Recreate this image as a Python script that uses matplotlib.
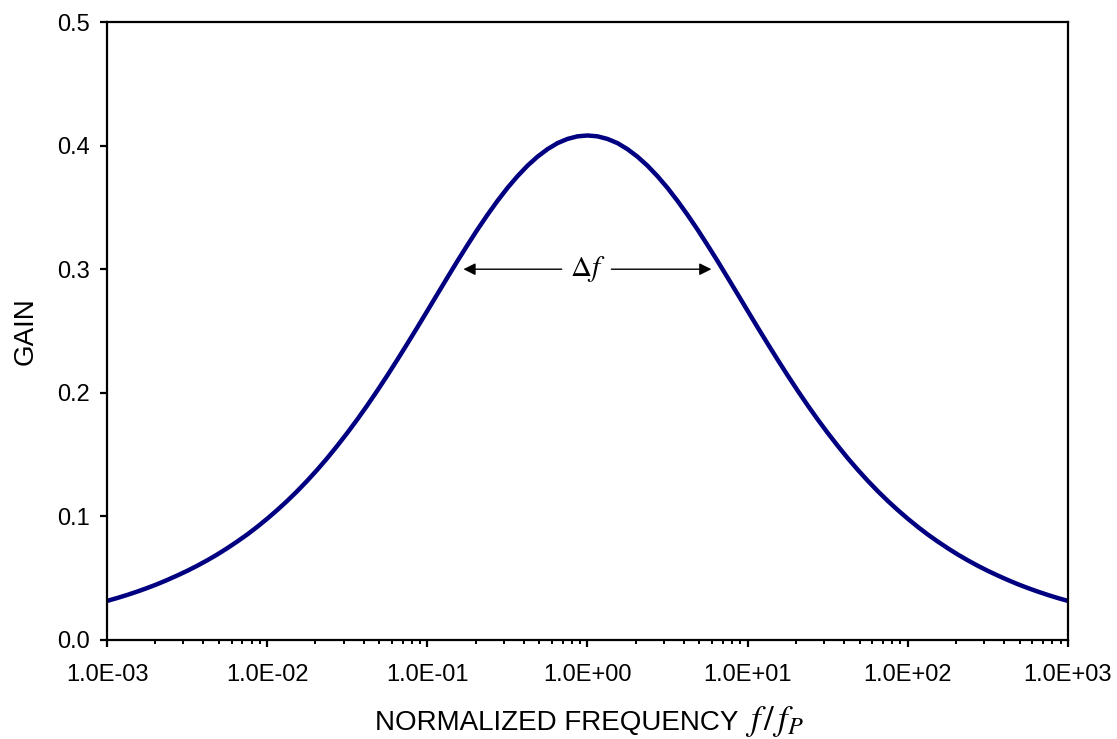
import matplotlib
matplotlib.use("Agg")
import matplotlib.pyplot as plt
from matplotlib.ticker import FuncFormatter, LogLocator, MultipleLocator, NullFormatter

# gain, sixteenth-decade steps from f/fP = 1e-3 to 1e3
gain = [0.0316, 0.0339, 0.0364, 0.0391, 0.0420, 0.0451, 0.0485, 0.0521,
        0.0559, 0.0600, 0.0644, 0.0691, 0.0742, 0.0796, 0.0853, 0.0915,
        0.0981, 0.1051, 0.1125, 0.1204, 0.1288, 0.1377, 0.1471, 0.1571,
        0.1675, 0.1784, 0.1898, 0.2017, 0.2140, 0.2267, 0.2397, 0.2529,
        0.2663, 0.2798, 0.2932, 0.3065, 0.3194, 0.3320, 0.3439, 0.3552,
        0.3657, 0.3752, 0.3837, 0.3910, 0.3971, 0.4020, 0.4054, 0.4075,
        0.4082,
        0.4075, 0.4054, 0.4020, 0.3971, 0.3910, 0.3837, 0.3752, 0.3657,
        0.3552, 0.3439, 0.3320, 0.3194, 0.3065, 0.2932, 0.2798, 0.2663,
        0.2529, 0.2397, 0.2267, 0.2140, 0.2017, 0.1898, 0.1784, 0.1675,
        0.1571, 0.1471, 0.1377, 0.1288, 0.1204, 0.1125, 0.1051, 0.0981,
        0.0915, 0.0853, 0.0796, 0.0742, 0.0691, 0.0644, 0.0600, 0.0559,
        0.0521, 0.0485, 0.0451, 0.0420, 0.0391, 0.0364, 0.0339, 0.0316]
log_freq = [-3 + i / 16 for i in range(len(gain))]
freq = [10 ** u for u in log_freq]

decade_ticks = [1e-3, 1e-2, 1e-1, 1e0, 1e1, 1e2, 1e3]
gain_ticks = [0.0, 0.1, 0.2, 0.3, 0.4, 0.5]

# bandwidth arrows at gain 0.3
band_level = 0.3
band_left = 0.168
band_right = 5.94
label_left = 0.69
label_right = 1.41

plt.rcParams["font.family"] = ["Liberation Sans", "DejaVu Sans"]
plt.rcParams["mathtext.fontset"] = "stix"

fig = plt.figure(figsize=(11.17, 7.39), dpi=100)
ax = fig.add_axes([0.0958, 0.134, 0.8603, 0.8362])

ax.plot(freq, gain, color="#000080", lw=3.2, solid_capstyle="butt")

ax.set_xscale("log")
ax.set_xlim(1e-3, 1e3)
ax.set_ylim(0, 0.5)
ax.set_yticks(gain_ticks)
ax.yaxis.set_major_formatter(FuncFormatter(lambda v, p: f"{v:.1f}"))
ax.set_xticks(decade_ticks)
ax.xaxis.set_minor_locator(LogLocator(base=10, subs=range(2, 10), numticks=100))
ax.xaxis.set_major_formatter(FuncFormatter(lambda v, p: f"{v:.1E}"))
ax.xaxis.set_minor_formatter(NullFormatter())

for s in ax.spines.values():
    s.set_linewidth(1.6)
ax.tick_params(axis="both", which="major", length=5, width=1.6,
               labelsize=17, direction="out", pad=7)
ax.tick_params(axis="x", which="minor", length=3, width=1.4, direction="out")
ax.tick_params(axis="x", which="major", pad=12)

ax.set_ylabel("GAIN", fontsize=20, labelpad=14)

# x label: plain caps plus a larger italic f/fP, as in the original
fig.text(738 / 1117, 1 - 730 / 739, "NORMALIZED FREQUENCY", fontsize=20,
         ha="right", va="baseline")
fig.text(745 / 1117, 1 - 730 / 739, r"$f\,/\,f_{P}$", fontsize=25,
         ha="left", va="baseline")

arrow = dict(arrowstyle="-|>", color="black", lw=1.0, mutation_scale=18,
             shrinkA=0, shrinkB=0)
ax.annotate("", xy=(band_left, band_level), xytext=(label_left, band_level),
            arrowprops=arrow)
ax.annotate("", xy=(band_right, band_level), xytext=(label_right, band_level),
            arrowprops=arrow)
ax.text(1.0, band_level, r"$\Delta f$", fontsize=21, ha="center", va="center")

fig.savefig("out.png", dpi=100)
